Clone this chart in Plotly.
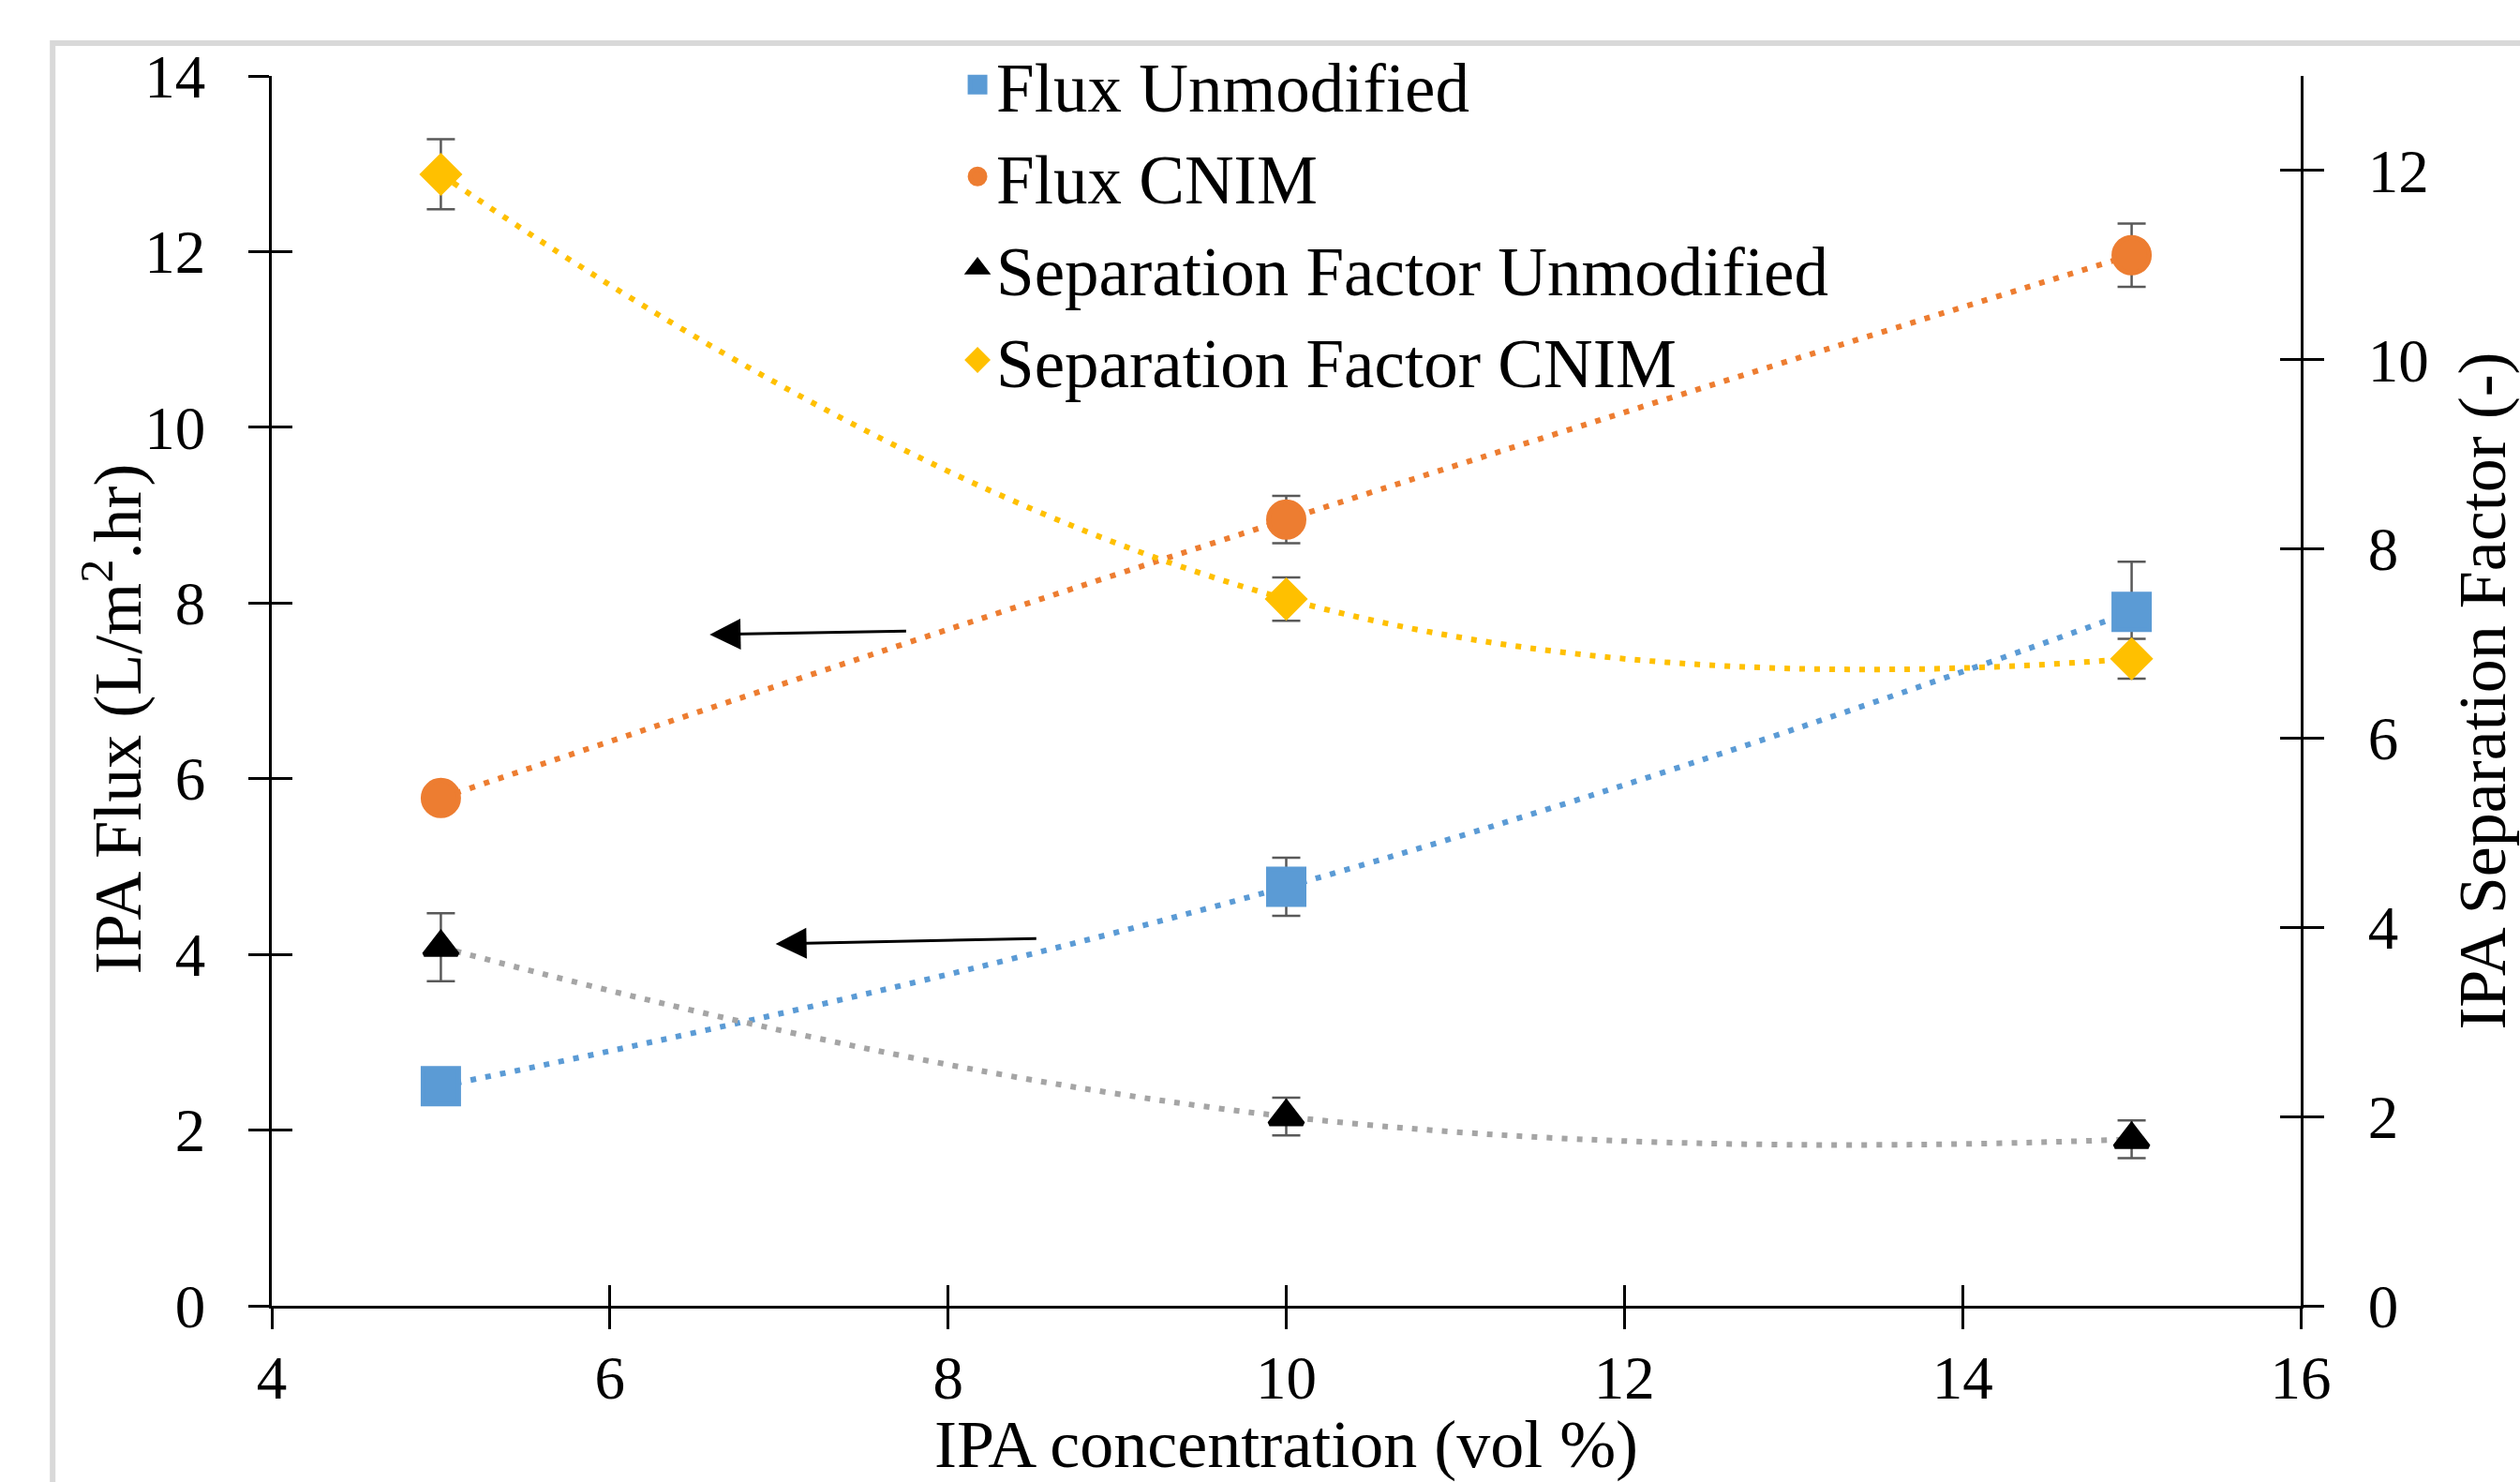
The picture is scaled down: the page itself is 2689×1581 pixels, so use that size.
import plotly.graph_objects as go

# ---------------- data ----------------
conc = [5, 10, 15]

flux_unmodified = [2.50, 4.77, 7.90]
flux_unmodified_err = [0.10, 0.33, 0.57]

flux_cnim = [5.78, 8.95, 11.96]
flux_cnim_err = [0.12, 0.27, 0.36]

sf_unmodified = [3.79, 2.00, 1.76]
sf_unmodified_err = [0.36, 0.20, 0.20]

sf_cnim = [11.96, 7.47, 6.84]
sf_cnim_err = [0.37, 0.23, 0.21]

series_names = ["Flux Unmodified", "Flux CNIM",
                "Separation Factor Unmodified", "Separation Factor CNIM"]

x_ticks = [4, 6, 8, 10, 12, 14, 16]
y_left_ticks = [0, 2, 4, 6, 8, 10, 12, 14]
y_right_ticks = [0, 2, 4, 6, 8, 10, 12]

# ---------------- styling ----------------
FONT = "Liberation Serif, Times New Roman, serif"
TICK_SIZE = 65
TITLE_SIZE = 72
LEGEND_SIZE = 73
ERR_COLOR = "#595959"
OUTLINE = 5  # marker outline in the marker colour (also enlarges legend glyphs)

series = [
    dict(name=series_names[0], y=flux_unmodified, err=flux_unmodified_err, axis="y",
         color="#5B9BD5", line="#5B9BD5", symbol="square", size=38),
    dict(name=series_names[1], y=flux_cnim, err=flux_cnim_err, axis="y",
         color="#ED7D31", line="#ED7D31", symbol="circle", size=38),
    dict(name=series_names[2], y=sf_unmodified, err=sf_unmodified_err, axis="y2",
         color="#000000", line="#A5A5A5", symbol="triangle-up", size=31),
    dict(name=series_names[3], y=sf_cnim, err=sf_cnim_err, axis="y2",
         color="#FFC000", line="#FFC000", symbol="diamond", size=30),
]

fig = go.Figure()

# dotted smooth trend lines (drawn beneath the markers)
for s in series:
    fig.add_trace(go.Scatter(
        x=conc, y=s["y"], yaxis=s["axis"], mode="lines",
        line=dict(color=s["line"], width=6, dash="6px,10px",
                  shape="spline", smoothing=1.3),
        showlegend=False, hoverinfo="skip"))

# markers with error bars
for s in series:
    fig.add_trace(go.Scatter(
        x=conc, y=s["y"], yaxis=s["axis"], mode="markers", name=s["name"],
        marker=dict(symbol=s["symbol"], size=s["size"], color=s["color"],
                    line=dict(width=OUTLINE, color=s["color"])),
        error_y=dict(type="data", array=s["err"], visible=True,
                     color=ERR_COLOR, thickness=2.5, width=15)))

# empty helper traces that carry the inner half of the "cross" tick marks
fig.add_trace(go.Scatter(x=[], y=[], xaxis="x2", yaxis="y3",
                         showlegend=False, hoverinfo="skip"))
fig.add_trace(go.Scatter(x=[], y=[], xaxis="x2", yaxis="y4",
                         showlegend=False, hoverinfo="skip"))

tickfont = dict(family=FONT, size=TICK_SIZE, color="black")
titlefont = dict(family=FONT, size=TITLE_SIZE, color="black")
common = dict(showgrid=False, zeroline=False, linecolor="black", linewidth=2.5,
              tickcolor="black", tickwidth=2.5, ticklen=22, tickfont=tickfont,
              automargin=False)

fig.update_layout(
    width=2689, height=1581,
    margin=dict(l=290, r=234, t=81, b=188, autoexpand=False),
    paper_bgcolor="white", plot_bgcolor="white",
    font=dict(family=FONT, color="black"),
    xaxis=dict(range=[4, 16], tickvals=x_ticks, ticks="outside", showline=True,
               anchor="y", ticklabelstandoff=-4,
               title=dict(text="IPA concentration (vol %)", font=titlefont, standoff=65),
               **common),
    xaxis2=dict(range=[4, 16], tickvals=x_ticks, ticks="inside", showline=False,
                showticklabels=False, overlaying="x", anchor="y", side="bottom",
                **common),
    yaxis=dict(range=[0, 14], tickvals=y_left_ticks, ticks="outside", showline=True,
               anchor="x", side="left", ticklabelstandoff=33,
               **common),
    yaxis2=dict(range=[0, 13], tickvals=y_right_ticks, ticks="outside", showline=True,
                overlaying="y", anchor="x", side="right", ticklabelstandoff=34,
                title=dict(text="IPA Separation Factor (-)", font=titlefont, standoff=40),
                **common),
    yaxis3=dict(range=[0, 14], tickvals=y_left_ticks, ticks="inside", showline=False,
                showticklabels=False, overlaying="y", anchor="x", side="left",
                **common),
    yaxis4=dict(range=[0, 13], tickvals=y_right_ticks, ticks="inside", showline=False,
                showticklabels=False, overlaying="y", anchor="x", side="right",
                **common),
    legend=dict(x=0.3386, y=1.034, xanchor="left", yanchor="top",
                bgcolor="rgba(0,0,0,0)", borderwidth=0,
                font=dict(family=FONT, size=LEGEND_SIZE, color="black"),
                traceorder="normal", tracegroupgap=0),
    showlegend=True,
)

# left axis title (placed as rotated text beside the flux axis)
fig.add_annotation(text="IPA Flux (L/m<sup>2</sup>.hr)", textangle=-90,
                   xref="paper", yref="paper", x=-0.0785, y=0.477,
                   xanchor="center", yanchor="middle", showarrow=False,
                   font=titlefont)

# arrows pointing toward the left (flux) axis
fig.add_annotation(x=6.59, y=7.64, ax=7.76, ay=7.68, xref="x", yref="y",
                   axref="x", ayref="y", text="", showarrow=True,
                   arrowhead=2, arrowsize=2.2, arrowwidth=3, arrowcolor="black")
fig.add_annotation(x=6.98, y=4.12, ax=8.53, ay=4.18, xref="x", yref="y",
                   axref="x", ayref="y", text="", showarrow=True,
                   arrowhead=2, arrowsize=2.2, arrowwidth=3, arrowcolor="black")

# light grey chart-area border (cropped at right and bottom)
fig.add_shape(type="rect", xref="paper", yref="paper",
              x0=-0.108, y0=-0.35, x1=1.35, y1=1.0267,
              line=dict(color="#d9d9d9", width=6), fillcolor="rgba(0,0,0,0)",
              layer="below")

fig.write_html("out.html")
